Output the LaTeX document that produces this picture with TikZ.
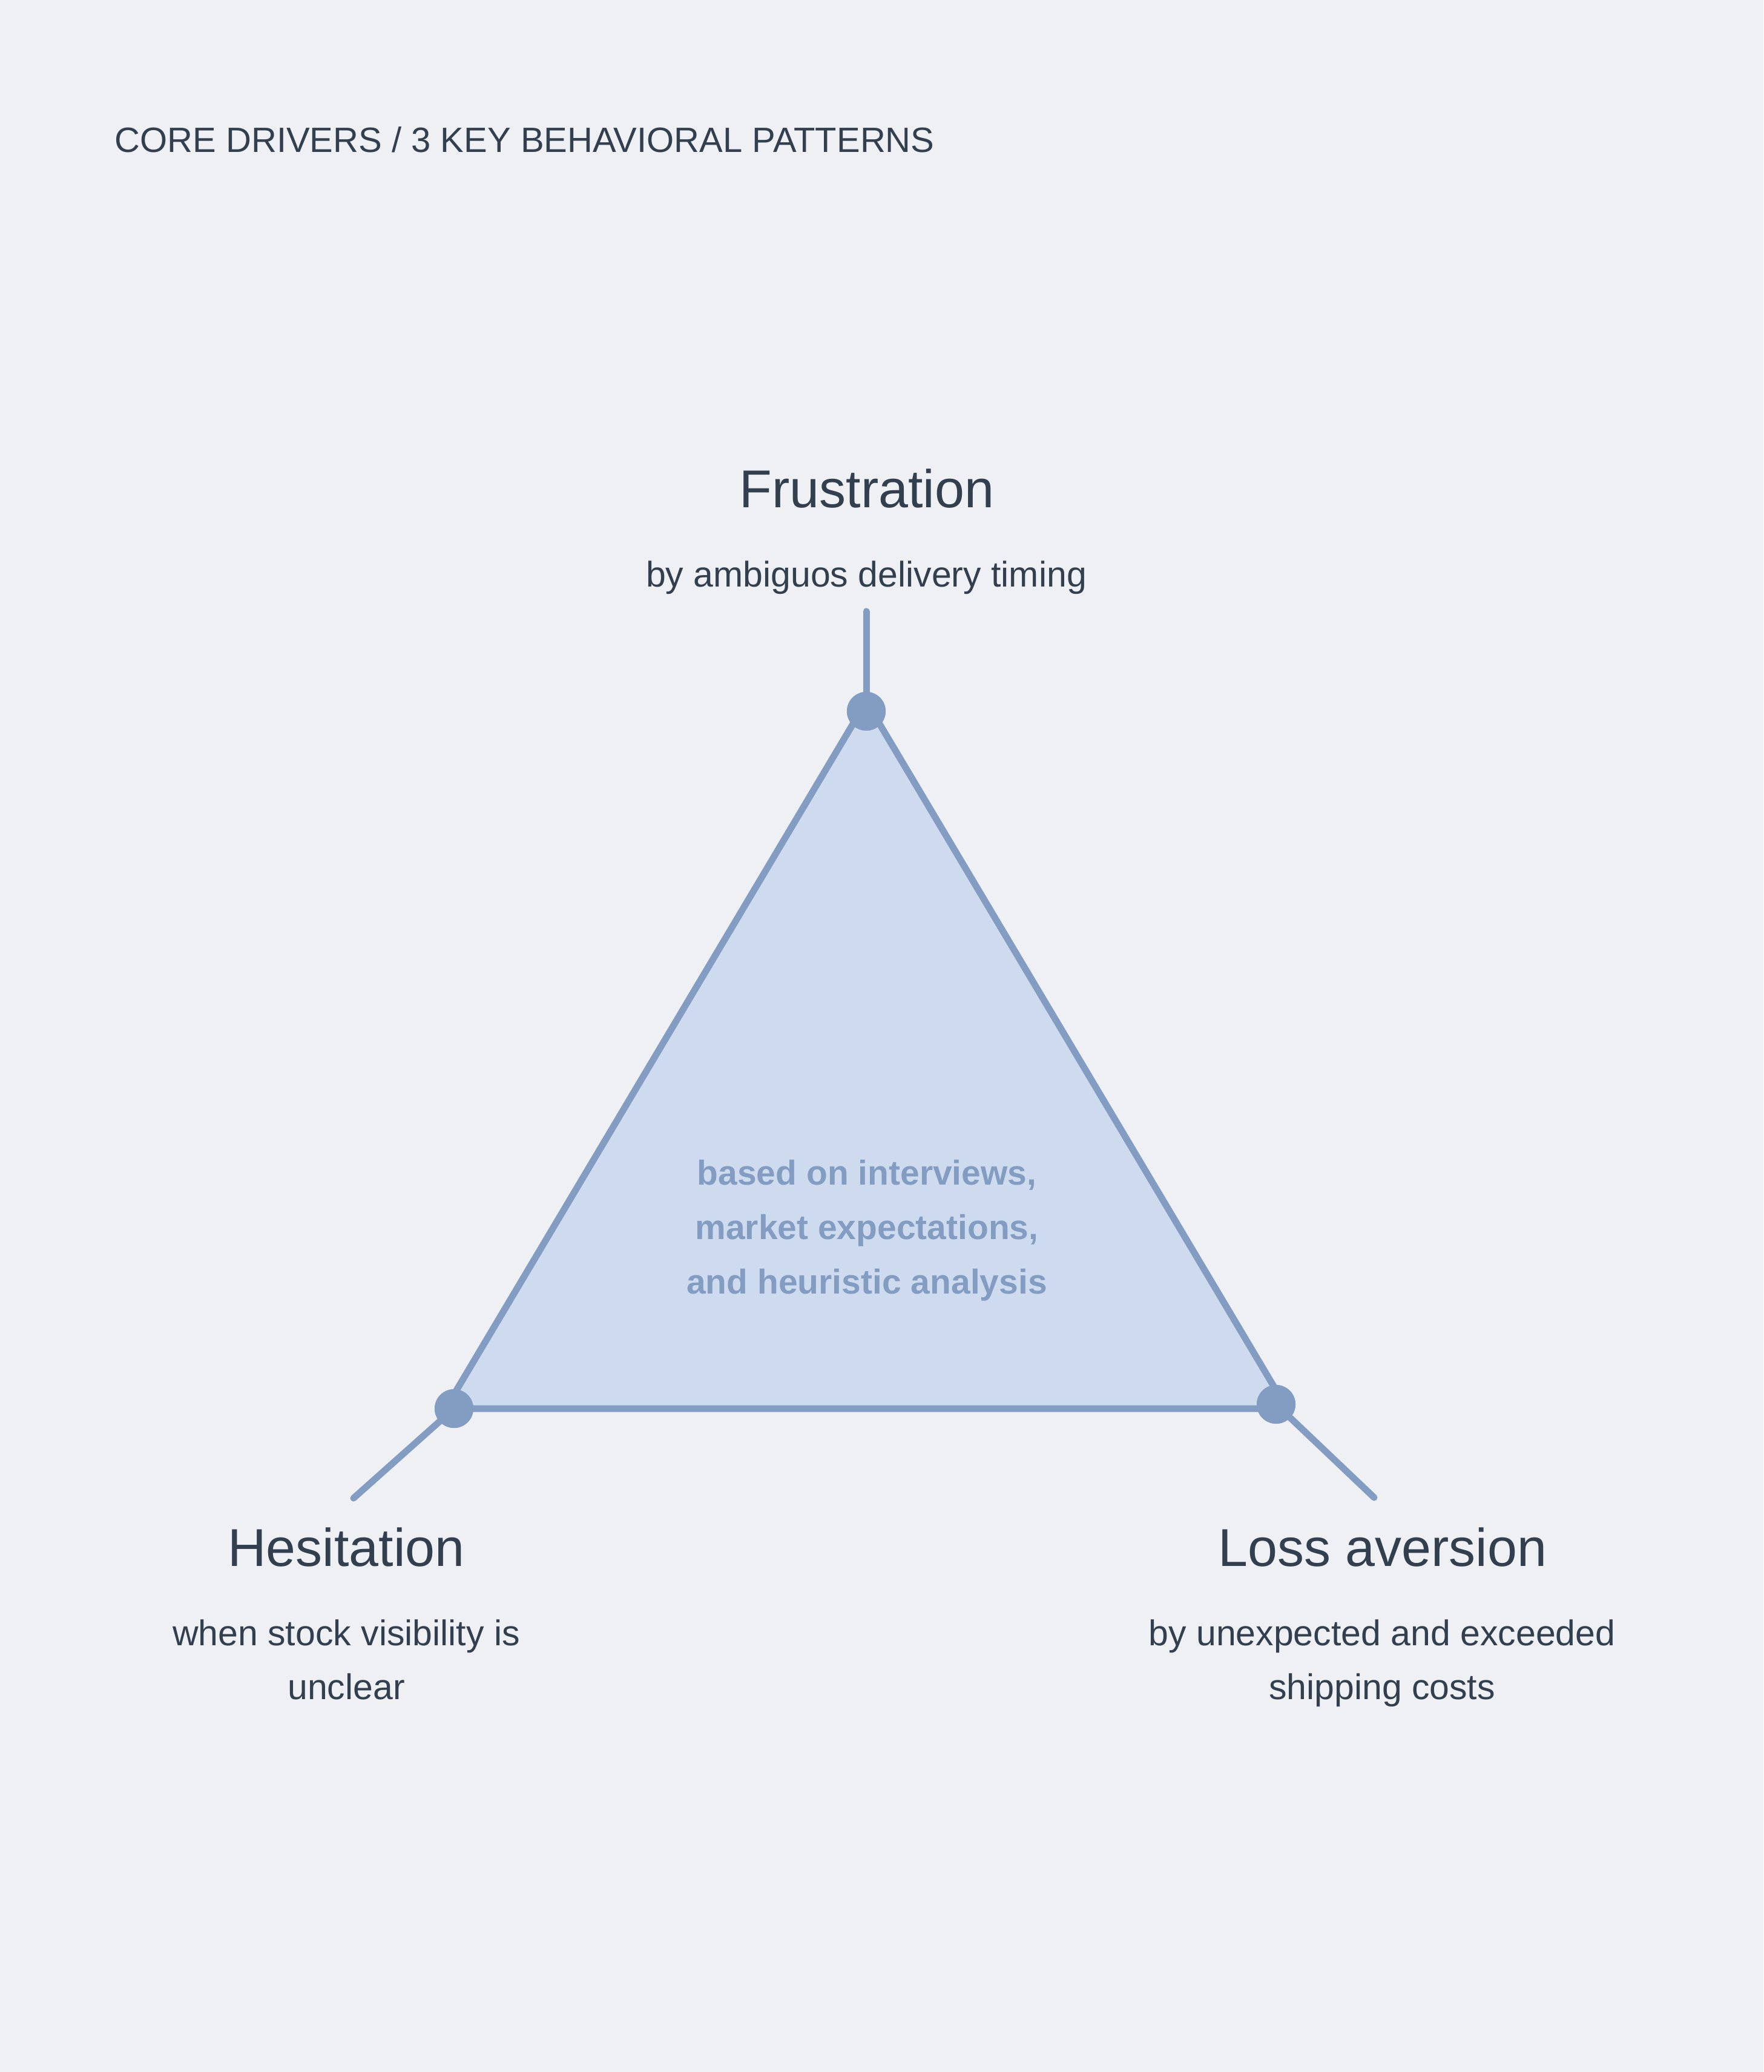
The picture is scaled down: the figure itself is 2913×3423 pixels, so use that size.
\documentclass[tikz,border=0pt]{standalone}
\usepackage{fontspec}
\setmainfont{Liberation Sans}
\usetikzlibrary{positioning, calc}

\definecolor{bgcol}{HTML}{EFF0F4}
\definecolor{ink}{HTML}{323F4F}
\definecolor{edge}{HTML}{839DC2}
\definecolor{areacol}{HTML}{CEDBEE}

\begin{document}
\begin{tikzpicture}[
		x=0.25pt, y=-0.25pt,
		driver/.style={text=ink, anchor=base, inner sep=0pt, font=\fontsize{22}{26}\selectfont},
		driverdesc/.style={text=ink, anchor=base, inner sep=0pt, align=center, font=\fontsize{14.75}{22.25}\selectfont},
		vertexdot/.style={circle, fill=edge, minimum size=16pt, inner sep=0pt},
		stem/.style={draw=edge, line width=2.75pt, line cap=round},
	]
	\fill[bgcol] (0,0) rectangle (2913,3423);
	\useasboundingbox (0,0) rectangle (2913,3423);

	\node[anchor=base west, inner sep=0pt, text=ink, font=\fontsize{14.5}{17}\selectfont] (title) at (189,252)
		{CORE DRIVERS / 3 KEY BEHAVIORAL PATTERNS};

	% triangle
	\coordinate (ta) at (1431,1159);
	\coordinate (tb) at (736,2327);
	\coordinate (tc) at (2126,2327);
	\filldraw[fill=areacol, draw=edge, line width=2.75pt, line join=round] (ta) -- (tb) -- (tc) -- cycle;

	% base anchor of a multi-line node = last line
	\node[align=center, inner sep=0pt, anchor=base, text=edge, font=\fontsize{14.25}{22.5}\selectfont\bfseries] (basis) at (1432,2137)
		{based on interviews,\\market expectations,\\and heuristic analysis};

	% vertices and stems
	\node[vertexdot] (frus) at (1431,1175) {};
	\node[vertexdot] (hesi) at (750,2327) {};
	\node[vertexdot] (loss) at (2108,2320) {};
	\coordinate (frusend) at (1431,1010);
	\coordinate (hesiend) at (584,2475);
	\coordinate (lossend) at (2270,2474);
	\draw[stem] (frus.center) -- (frusend);
	\draw[stem] (hesi.center) -- (hesiend);
	\draw[stem] (loss.center) -- (lossend);
	\node[vertexdot] at (frus) {};
	\node[vertexdot] at (hesi) {};
	\node[vertexdot] at (loss) {};

	% labels
	\node[driver] (frustitle) at (1432,838) {Frustration};
	\node[driverdesc] (frusdesc) at (1431,969) {by ambiguos delivery timing};
	\node[driver] (hesititle) at (572,2587) {Hesitation};
	\node[driverdesc] (hesidesc) at (572,2807) {when stock visibility is\\unclear};
	\node[driver] (losstitle) at (2284,2587) {Loss aversion};
	\node[driverdesc] (lossdesc) at (2283,2807) {by unexpected and exceeded\\shipping costs};
\end{tikzpicture}
\end{document}
